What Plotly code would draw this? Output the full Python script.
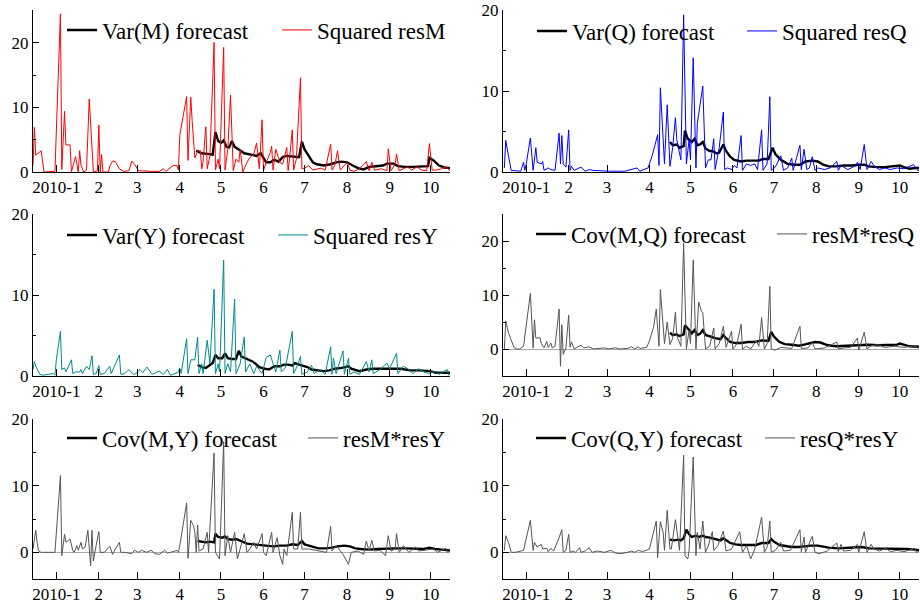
import pandas as pd
import plotly.graph_objects as go

# (day since 2010-01-01, value) pairs
varM = [(102, 3.3), (106, 2.9), (110, 2.8), (114, 2.7), (116, 6.2), (118, 4.8), (120, 4.5), (122, 4.9),
        (124, 3.9), (126, 3.8), (128, 4.8), (130, 3.9), (133, 3.5), (137, 2.9), (142, 2.7), (146, 2.5),
        (149, 2.9), (151, 2.2), (153, 1.5), (156, 1.5), (159, 1.9), (162, 1.6), (165, 2.3), (168, 2.5),
        (172, 2.4), (177, 2.3), (179, 4.7), (181, 3.5), (184, 2.5), (187, 1.5), (190, 1.2), (195, 1.0),
        (200, 1.2), (204, 1.5), (208, 1.6), (212, 1.5), (216, 1.0), (220, 0.6), (224, 0.4), (228, 0.8),
        (233, 0.9), (238, 1.0), (241, 1.3), (246, 1.3), (249, 0.9), (254, 0.8), (260, 0.8), (266, 0.8),
        (271, 0.9), (272, 2.2), (275, 1.8), (279, 1.0), (283, 0.7), (287, 0.6)]
sqM = [(-17, 1.0), (-16, 6.9), (-15, 2.6), (-13, 3.0), (-11, 3.3), (-9, 0.0), (-1, 0.1), (3, 24.5),
       (4, 0.4), (6, 9.4), (7, 4.2), (10, 4.2), (11, 0.0), (14, 2.4), (16, 0.0), (17, 3.3), (18, 1.0),
       (20, 0.0), (22, 0.3), (24, 11.3), (27, 0.0), (30, 0.2), (31, 7.3), (32, 0.0), (33, 2.7), (34, 0.0),
       (38, 0.0), (39, 0.9), (41, 1.7), (43, 1.6), (46, 0.5), (49, 0.1), (53, 0.2), (55, 1.7), (57, 1.2),
       (60, 0.2), (65, 0.1), (70, 0.1), (75, 0.1), (78, 0.5), (80, 0.1), (85, 1.0), (88, 1.0), (89, 0.3),
       (90, 5.7), (95, 11.7), (96, 1.8), (98, 11.6), (99, 8.0), (101, 2.2), (103, 3.2), (105, 3.3),
       (106, 0.5), (107, 1.5), (109, 7.0), (110, 0.5), (112, 2.5), (115, 20.1), (116, 0.3), (118, 2.0),
       (119, 0.5), (122, 19.3), (123, 0.3), (125, 3.5), (127, 11.9), (128, 5.0), (129, 0.2), (131, 2.0),
       (133, 1.5), (134, 3.5), (136, 0.0), (139, 1.5), (141, 2.2), (144, 2.8), (146, 4.5), (148, 0.5),
       (150, 8.1), (151, 0.2), (153, 1.5), (156, 3.0), (157, 4.0), (158, 0.3), (160, 3.5), (163, 1.5),
       (165, 1.2), (168, 3.8), (169, 0.2), (170, 2.0), (172, 6.5), (173, 0.3), (175, 2.0), (178, 14.6),
       (179, 0.5), (181, 0.6), (184, 1.0), (187, 0.3), (190, 0.5), (193, 0.6), (196, 0.3), (200, 4.3),
       (201, 0.3), (203, 1.0), (205, 3.3), (207, 0.3), (212, 1.5), (214, 0.3), (217, 0.1), (221, 0.5),
       (226, 1.6), (228, 0.2), (230, 1.5), (232, 0.3), (237, 0.5), (241, 0.2), (242, 3.6), (244, 0.2),
       (247, 1.2), (248, 2.8), (250, 0.2), (253, 0.5), (256, 0.8), (259, 0.3), (263, 0.8), (266, 0.3),
       (270, 0.2), (272, 4.4), (274, 0.3), (277, 0.3), (281, 0.5), (284, 0.8), (286, 0.3), (287, 0.2)]

varQ = [(105, 3.7), (107, 3.3), (110, 3.4), (112, 3.0), (115, 3.2), (116, 5.1), (118, 4.1), (121, 3.7),
        (123, 4.1), (125, 3.3), (127, 3.4), (129, 3.7), (131, 2.9), (134, 2.6), (136, 2.6), (139, 2.3),
        (141, 2.4), (144, 3.4), (146, 2.6), (149, 1.9), (152, 1.5), (157, 1.3), (161, 1.4), (165, 1.4),
        (170, 1.4), (173, 1.6), (177, 1.6), (180, 3.0), (182, 2.2), (186, 1.5), (191, 1.0), (196, 0.9),
        (200, 0.9), (204, 1.3), (209, 1.4), (213, 1.3), (217, 0.9), (221, 0.7), (226, 0.7), (232, 0.8),
        (238, 0.8), (243, 0.9), (247, 0.9), (250, 0.7), (256, 0.6), (262, 0.6), (268, 0.7), (273, 0.8),
        (276, 0.6), (280, 0.4), (284, 0.5), (288, 0.5)]
sqQ = [(-16, 0.5), (-15, 3.9), (-13, 2.0), (-11, 0.2), (-4, 0.1), (-2, 1.2), (-1, 0.2), (0, 1.0),
       (3, 4.2), (5, 0.2), (7, 3.0), (8, 1.2), (11, 1.0), (12, 1.3), (13, 0.2), (16, 0.5), (18, 0.3),
       (21, 0.2), (24, 4.8), (25, 1.0), (26, 4.5), (27, 1.0), (29, 0.6), (31, 5.2), (32, 0.2), (33, 0.7),
       (35, 0.2), (40, 0.6), (43, 0.1), (46, 0.3), (49, 0.2), (60, 0.1), (72, 0.1), (81, 0.5), (83, 0.1),
       (89, 0.5), (90, 1.0), (92, 2.0), (96, 4.6), (97, 0.8), (98, 10.4), (100, 3.0), (101, 1.0),
       (103, 8.3), (105, 0.7), (107, 3.0), (109, 6.7), (110, 4.0), (113, 1.5), (115, 19.4), (117, 1.0),
       (119, 4.0), (120, 1.5), (122, 14.1), (124, 0.5), (125, 6.0), (129, 10.6), (131, 0.5), (133, 1.5),
       (135, 1.5), (137, 4.1), (138, 0.3), (141, 3.0), (144, 7.4), (145, 0.3), (147, 0.5), (150, 0.3),
       (152, 0.8), (154, 0.5), (157, 4.5), (158, 0.2), (161, 1.0), (164, 0.8), (167, 1.0), (169, 0.3),
       (172, 5.2), (173, 0.2), (176, 1.0), (178, 9.3), (179, 0.2), (182, 0.6), (186, 2.0), (188, 0.2),
       (191, 0.5), (194, 1.7), (195, 0.2), (200, 3.3), (201, 0.3), (203, 2.8), (205, 0.3), (207, 0.5),
       (209, 1.9), (211, 0.2), (213, 0.5), (218, 0.3), (222, 0.5), (227, 1.3), (228, 0.2), (230, 0.8),
       (235, 0.3), (241, 0.8), (242, 1.2), (244, 0.3), (247, 3.4), (249, 0.3), (252, 1.3), (254, 0.8),
       (258, 0.3), (262, 0.5), (266, 0.3), (271, 0.5), (276, 0.4), (283, 0.9), (286, 0.2), (288, 0.2)]

varY = [(103, 1.4), (106, 1.1), (109, 1.0), (112, 1.3), (114, 1.6), (116, 2.6), (118, 2.2), (121, 2.2),
        (123, 2.8), (125, 2.2), (128, 2.1), (131, 2.1), (133, 3.1), (135, 2.4), (138, 2.2), (141, 2.0),
        (143, 1.8), (146, 1.4), (148, 1.1), (152, 0.9), (155, 0.8), (159, 1.2), (163, 1.2), (166, 1.4),
        (169, 1.4), (172, 1.3), (174, 1.6), (177, 1.4), (179, 1.3), (183, 1.1), (186, 0.8), (191, 0.7),
        (195, 0.6), (199, 0.7), (203, 0.9), (208, 1.0), (213, 1.2), (215, 0.9), (217, 0.8), (221, 0.6),
        (226, 0.8), (231, 0.9), (238, 0.9), (245, 0.9), (251, 0.9), (258, 0.7), (265, 0.7), (272, 0.6),
        (277, 0.4), (287, 0.4)]
sqY = [(-17, 0.8), (-16, 1.8), (-15, 1.2), (-12, 0.2), (-10, 0.1), (-5, 0.2), (-2, 0.3), (-1, 0.1),
       (0, 2.0), (3, 5.5), (4, 0.8), (6, 1.0), (7, 0.5), (11, 2.0), (12, 0.3), (14, 0.5), (17, 0.5),
       (18, 0.8), (19, 0.3), (22, 1.2), (24, 0.8), (26, 2.5), (27, 0.2), (29, 0.3), (31, 1.3), (32, 0.2),
       (35, 0.3), (39, 1.2), (40, 0.3), (46, 2.6), (47, 0.2), (50, 0.3), (53, 0.8), (56, 0.2), (58, 0.3),
       (61, 0.8), (63, 0.4), (66, 1.1), (68, 0.6), (70, 0.2), (75, 0.6), (78, 0.2), (81, 0.8), (83, 0.1),
       (85, 0.2), (89, 0.5), (90, 1.0), (91, 0.3), (95, 4.6), (96, 0.3), (98, 2.0), (101, 2.0), (103, 4.8),
       (104, 0.3), (106, 1.5), (107, 0.3), (110, 4.4), (112, 1.5), (115, 10.7), (116, 0.3), (118, 1.5),
       (119, 0.5), (122, 14.3), (123, 0.3), (125, 1.5), (127, 0.5), (130, 9.5), (131, 0.3), (134, 1.5),
       (137, 4.8), (138, 0.5), (141, 1.5), (144, 0.3), (146, 1.2), (150, 0.3), (153, 2.3), (156, 2.6),
       (158, 1.5), (160, 0.5), (163, 3.2), (164, 0.5), (167, 1.0), (172, 5.5), (173, 0.3), (175, 1.0),
       (178, 2.4), (179, 0.2), (183, 0.5), (186, 1.3), (188, 0.3), (192, 0.8), (196, 0.2), (200, 3.6),
       (201, 0.2), (202, 2.2), (204, 0.3), (209, 3.1), (210, 0.2), (213, 2.2), (214, 0.2), (217, 0.5),
       (221, 0.2), (226, 1.8), (228, 0.5), (230, 2.0), (231, 0.3), (236, 0.8), (241, 1.6), (243, 0.8),
       (244, 1.3), (248, 2.8), (249, 0.3), (253, 1.2), (257, 0.8), (260, 0.3), (264, 0.9), (268, 0.5),
       (272, 0.3), (277, 0.6), (279, 0.2), (285, 0.8), (286, 0.1), (287, 0.3)]

covMQ = [(105, 3.0), (107, 2.6), (110, 2.7), (112, 2.4), (115, 2.7), (116, 4.4), (119, 3.5), (121, 2.9),
         (123, 3.5), (125, 2.6), (127, 2.8), (129, 3.5), (131, 2.6), (134, 2.3), (138, 2.0), (142, 1.8),
         (144, 2.6), (146, 2.0), (149, 1.3), (153, 1.1), (157, 1.1), (162, 1.3), (167, 1.3), (172, 1.6),
         (177, 1.5), (179, 3.2), (181, 2.3), (185, 1.3), (189, 0.9), (194, 0.8), (199, 0.6), (203, 0.8),
         (207, 1.1), (211, 1.3), (215, 1.2), (219, 0.8), (223, 0.6), (227, 0.5), (234, 0.6), (240, 0.7),
         (245, 0.8), (250, 0.8), (257, 0.7), (265, 0.7), (271, 0.8), (273, 1.0), (276, 0.8), (280, 0.5),
         (288, 0.4)]
prodMQ = [(-16, 0.0), (-15, 5.2), (-13, 3.0), (-11, 1.5), (-9, 0.3), (-7, 0.0), (-5, 0.0), (-2, 0.5),
          (3, 10.3), (5, 0.2), (6, 5.4), (7, 2.0), (10, 2.1), (11, 1.0), (13, 0.2), (15, 1.4), (16, 0.3),
          (18, 1.1), (19, 0.2), (21, 0.5), (24, 7.4), (25, -3.2), (26, 4.5), (27, -1.0), (29, 0.2),
          (31, 6.3), (32, 0.3), (33, 1.3), (35, 0.0), (40, 0.7), (42, 0.2), (46, 0.4), (49, 0.0), (57, 0.2),
          (60, 0.0), (65, 0.2), (69, 0.0), (74, 0.1), (77, 0.4), (79, 0.0), (82, 0.4), (83, 0.1), (88, 0.3),
          (90, 1.5), (93, 4.0), (95, 7.4), (97, 0.5), (98, 11.0), (100, 3.5), (101, 1.0), (103, 5.0),
          (105, 0.8), (107, 2.0), (109, 6.8), (110, 2.5), (113, 0.5), (115, 19.6), (117, 0.0), (119, 3.5),
          (120, 1.0), (122, 16.5), (124, 0.0), (126, 8.7), (128, 7.0), (129, 6.7), (131, 0.0), (134, 0.5),
          (137, 3.9), (138, 0.0), (141, 1.0), (144, 4.2), (146, 0.3), (150, 3.3), (151, 0.0), (154, 1.0),
          (157, 4.6), (158, 0.0), (161, 0.5), (164, 0.0), (168, 1.5), (170, 0.5), (172, 5.8), (174, 0.0),
          (176, 1.0), (178, 11.6), (179, 0.0), (182, -0.2), (186, 0.3), (190, 0.2), (194, 0.1), (200, 4.2),
          (201, 0.1), (206, 0.2), (209, 1.2), (211, 0.0), (218, 0.2), (227, 1.3), (228, 0.0), (232, 0.2),
          (237, 0.3), (242, 2.0), (243, -0.2), (247, 3.1), (249, 0.0), (252, 0.6), (257, 0.8), (262, 0.3),
          (269, 0.5), (276, 0.3), (283, 0.6), (286, 0.2), (288, 0.3)]

covMY = [(103, 1.7), (106, 1.6), (109, 1.5), (112, 1.6), (115, 1.5), (116, 2.8), (118, 2.3), (121, 2.2),
         (123, 2.4), (125, 2.0), (128, 1.9), (131, 2.0), (134, 1.7), (139, 1.3), (144, 1.2), (148, 1.1),
         (153, 1.0), (158, 0.9), (163, 1.0), (168, 1.0), (172, 1.2), (176, 1.1), (179, 1.7), (181, 1.2),
         (186, 0.9), (191, 0.6), (196, 0.6), (201, 0.7), (205, 0.9), (210, 1.0), (214, 0.9), (218, 0.6),
         (222, 0.5), (228, 0.4), (234, 0.5), (241, 0.6), (248, 0.6), (255, 0.6), (262, 0.5), (268, 0.5),
         (272, 0.7), (276, 0.5), (281, 0.4), (287, 0.3)]
prodMY = [(-17, 0.5), (-15, 3.3), (-14, 1.5), (-13, 0.2), (-11, 0.0), (-5, 0.0), (-2, -0.1), (-1, 0.0),
          (3, 11.5), (4, -0.5), (6, 2.7), (7, 1.5), (10, 2.0), (12, 0.3), (13, 0.0), (15, 1.0), (16, 0.3),
          (18, 1.5), (19, 0.5), (21, 0.8), (23, 3.3), (25, -2.0), (26, 3.3), (27, -1.3), (29, 1.0),
          (31, 3.1), (32, 0.0), (35, 0.0), (39, 0.9), (41, -0.3), (43, 0.5), (46, 1.5), (47, 0.0), (50, 0.0),
          (55, -0.2), (57, 0.3), (60, 0.0), (62, 0.3), (66, 0.0), (69, 0.3), (72, -0.2), (75, -0.3),
          (79, 0.3), (81, -0.1), (85, 0.1), (88, 0.3), (89, 0.0), (90, 1.0), (95, 7.4), (96, -0.9),
          (98, 4.8), (100, 4.0), (101, 3.0), (102, 0.0), (103, 4.1), (104, 0.2), (107, 0.5), (110, 3.0),
          (111, 0.0), (115, 14.9), (116, 0.0), (119, -1.0), (122, 16.6), (123, -0.5), (125, 2.5), (127, 0.0),
          (130, 3.0), (132, -1.0), (134, 0.5), (137, 2.8), (139, 0.0), (141, 0.5), (144, 1.5), (146, 0.5),
          (150, 2.8), (151, 0.0), (153, -0.5), (157, 3.0), (158, 0.0), (161, 2.2), (163, -0.5), (165, -1.8),
          (166, 0.5), (168, -0.5), (172, 6.0), (173, 0.5), (176, 0.5), (178, 6.0), (179, 0.5), (184, 0.5),
          (189, 0.3), (193, 0.2), (197, 0.0), (200, 3.9), (201, 0.2), (204, 1.0), (207, 0.3), (209, -0.3),
          (213, -1.8), (215, 0.0), (220, 0.2), (224, -0.3), (226, 1.7), (228, 0.2), (230, 1.8), (232, 0.2),
          (236, 0.3), (240, -0.5), (242, 2.5), (244, 0.2), (247, 0.5), (248, 2.8), (250, 0.0), (253, 1.0),
          (257, 0.0), (262, 0.8), (264, 0.2), (269, 0.3), (275, 0.5), (278, 0.0), (284, 0.6), (285, 0.0),
          (287, 0.2)]

covQY = [(105, 1.9), (108, 1.8), (111, 1.9), (113, 1.8), (115, 2.1), (117, 3.4), (119, 2.7), (121, 2.3),
         (124, 2.5), (126, 2.3), (129, 2.5), (131, 2.3), (134, 2.2), (138, 2.0), (142, 1.8), (144, 2.1),
         (146, 1.8), (149, 1.4), (153, 1.2), (157, 1.1), (162, 1.1), (168, 1.1), (172, 1.4), (177, 1.4),
         (179, 2.0), (181, 1.6), (185, 1.1), (189, 1.0), (194, 0.8), (199, 0.8), (203, 0.9), (208, 1.0),
         (213, 1.0), (217, 0.8), (221, 0.7), (228, 0.6), (235, 0.7), (241, 0.8), (245, 0.8), (251, 0.6),
         (258, 0.6), (265, 0.5), (272, 0.6), (278, 0.5), (284, 0.4), (288, 0.3)]
prodQY = [(-16, 0.3), (-15, 2.5), (-13, 1.5), (-11, 0.0), (-8, 0.0), (-2, 0.3), (3, 4.8), (5, 0.3),
          (6, 1.5), (8, 0.8), (11, 1.2), (12, 0.5), (15, 0.6), (16, 0.1), (18, 0.6), (20, 0.2), (24, 2.2),
          (26, 3.4), (27, 0.0), (29, 0.3), (31, 2.7), (32, 0.0), (34, 0.2), (36, 0.0), (39, 0.7), (40, 0.0),
          (43, 0.2), (46, 0.7), (48, 0.0), (52, 0.2), (57, 0.0), (62, 0.3), (65, -0.1), (69, -0.2),
          (74, 0.0), (77, 0.2), (79, 0.0), (82, 0.3), (85, 0.1), (90, 0.5), (95, 4.7), (96, -0.8),
          (98, 4.6), (100, 3.0), (101, 0.3), (103, 6.3), (105, 0.5), (106, 0.5), (109, 4.9), (111, 2.0),
          (112, 0.3), (115, 14.6), (116, -0.5), (118, -1.0), (119, 0.2), (122, 14.3), (124, -0.5),
          (125, 3.0), (127, 0.5), (129, 4.7), (131, 0.0), (133, 1.0), (136, 3.1), (137, 0.3), (140, 1.0),
          (144, 3.2), (146, 0.2), (150, 0.5), (156, 3.1), (158, 0.0), (161, 1.0), (164, -1.0), (167, 0.5),
          (172, 5.3), (174, 0.0), (176, 0.8), (178, 4.7), (179, 0.0), (182, 0.3), (186, 1.5), (188, 0.2),
          (193, 0.3), (200, 3.4), (201, 0.1), (203, 2.3), (204, 0.0), (209, 2.4), (211, 0.0), (214, -0.2),
          (220, 0.2), (227, 1.4), (228, 0.1), (230, 1.2), (232, 0.2), (237, 0.3), (242, 1.2), (243, 0.0),
          (247, 3.1), (249, 0.0), (252, 1.2), (254, 0.5), (258, 0.2), (263, 0.6), (266, 0.1), (271, 0.3),
          (276, 0.1), (284, 0.6), (285, 0.0), (288, 0.2)]

month_starts = ['2010-01-01', '2010-02-01', '2010-03-01', '2010-04-01', '2010-05-01',
                '2010-06-01', '2010-07-01', '2010-08-01', '2010-09-01', '2010-10-01']
month_labels = ['2010-1', '2', '3', '4', '5', '6', '7', '8', '9', '10']

base = pd.Timestamp('2010-01-01')


def to_xy(pairs):
    days, vals = zip(*pairs)
    return [base + pd.Timedelta(days=d) for d in days], list(vals)


W, H = 920, 609
FONT = 'Liberation Serif'

# label, data, label, data, colour, y range, zero line
panels = [
    ('Var(M) forecast', varM, 'Squared resM', sqM, '#ff0000', [0, 25.1], False),
    ('Var(Q) forecast', varQ, 'Squared resQ', sqQ, '#0000ff', [0, 20], False),
    ('Var(Y) forecast', varY, 'Squared resY', sqY, '#008b8b', [0, 20], False),
    ('Cov(M,Q) forecast', covMQ, 'resM*resQ', prodMQ, '#555555', [-5, 25], True),
    ('Cov(M,Y) forecast', covMY, 'resM*resY', prodMY, '#555555', [-4, 20], True),
    ('Cov(Q,Y) forecast', covQY, 'resQ*resY', prodQY, '#555555', [-4, 20], True),
]

# plot areas in pixels: left, right, top, bottom
boxes = [(33, 450, 10, 172), (503, 919, 10, 172),
         (33, 450, 214, 376), (503, 919, 214, 376),
         (33, 450, 419, 579), (503, 919, 419, 579)]
# legends: first text start, text centre, distance to second text
legpos = [(103, 30, 214), (573, 31, 209), (103, 235, 210),
          (572, 234, 240), (103, 438, 240), (572, 438, 228)]

fig = go.Figure()
layout = dict(width=W, height=H, margin=dict(l=0, r=0, t=0, b=0, autoexpand=False),
              paper_bgcolor='white', plot_bgcolor='white',
              font=dict(family=FONT, size=17, color='black'))

for i, (fname, fdata, rname, rdata, colour, yr, zl) in enumerate(panels, start=1):
    sfx = '' if i == 1 else str(i)
    lg = 'legend' + sfx
    tx, ty, gap = legpos[i - 1]
    x, y = to_xy(fdata)
    fig.add_trace(go.Scatter(x=x, y=y, mode='lines', name=fname,
                             line=dict(color='black', width=2.4), legendwidth=gap - 44,
                             xaxis='x' + sfx, yaxis='y' + sfx, legend=lg))
    x, y = to_xy(rdata)
    fig.add_trace(go.Scatter(x=x, y=y, mode='lines', name=rname,
                             line=dict(color=colour, width=1),
                             xaxis='x' + sfx, yaxis='y' + sfx, legend=lg))

    l, r, t, b = boxes[i - 1]
    layout['xaxis' + sfx] = dict(
        domain=[l / W, r / W], anchor='y' + sfx, type='date',
        range=['2009-12-15', '2010-10-15'],
        tickvals=month_starts, ticktext=month_labels,
        ticks='inside', ticklen=7, tickcolor='black',
        showline=True, linecolor='black', linewidth=1,
        showgrid=False, zeroline=False, automargin=False,
        tickfont=dict(family=FONT, size=17, color='black'))
    layout['yaxis' + sfx] = dict(
        domain=[1 - b / H, 1 - t / H], anchor='x' + sfx,
        range=yr, tick0=0, dtick=10,
        ticks='inside', ticklen=6, tickcolor='black',
        minor=dict(ticks='inside', dtick=5, ticklen=3, tickcolor='black'),
        showline=True, linecolor='black', linewidth=1,
        showgrid=False, zeroline=zl, zerolinecolor='#aaaaaa', zerolinewidth=1.2,
        automargin=False, ticklabeloverflow='allow',
        tickfont=dict(family=FONT, size=17, color='black'))

    layout[lg] = dict(x=(tx - 41) / W, y=1 - ty / H,
                      xanchor='left', yanchor='middle',
                      orientation='h', bgcolor='rgba(0,0,0,0)',
                      font=dict(family=FONT, size=23, color='black'))

fig.update_layout(**layout)
# drop the page's default body margin so the figure fills the window
fig.write_html("out.html", config={'displayModeBar': False},
               post_script="document.body.style.margin = '0px';")
